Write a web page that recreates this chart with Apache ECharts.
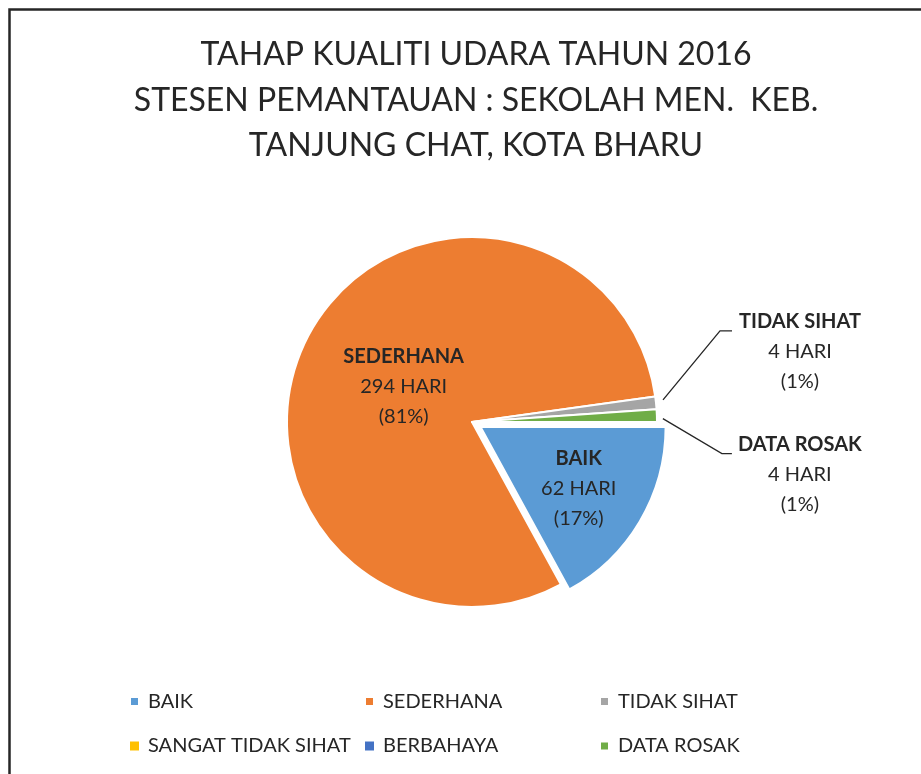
<!DOCTYPE html>
<html>
<head>
<meta charset="utf-8">
<script src="https://cdn.jsdelivr.net/npm/echarts@6/dist/echarts.min.js"></script>
<style>
  html, body { margin: 0; padding: 0; background: #fff; }
  #aqi-pie { width: 921px; height: 774px; }
</style>
</head>
<body>
<div id="aqi-pie"></div>
<script>
const titleLines = ['TAHAP KUALITI UDARA TAHUN 2016', 'STESEN PEMANTAUAN : SEKOLAH MEN.  KEB.', 'TANJUNG CHAT, KOTA BHARU']
const categories = ['BAIK', 'SEDERHANA', 'TIDAK SIHAT', 'SANGAT TIDAK SIHAT', 'BERBAHAYA', 'DATA ROSAK']
const days = [62, 294, 4, 0, 0, 4]
const colors = ['#5B9BD5', '#ED7D31', '#A5A5A5', '#FFC000', '#4472C4', '#70AD47']
// which slices carry an outside label with a leader line
const outsideLabels = ['TIDAK SIHAT', 'DATA ROSAK']
const legendColumns = [
  ['BAIK', 'SANGAT TIDAK SIHAT'],
  ['SEDERHANA', 'BERBAHAYA'],
  ['TIDAK SIHAT', 'DATA ROSAK'],
]

const FONT = 'Lato'
const TEXT = '#262626'

// nudges for the labels, relative to where echarts puts them
const innerShift = { BAIK: [16, 13], SEDERHANA: [17, 7] }
const leader = {
  'TIDAK SIHAT': { start: [7, -3], elbow: [64, -72], end: [76, -72] },
  'DATA ROSAK': { start: [6, 3], elbow: [65, 38], end: [75, 38] },
}

const chart = echarts.init(document.getElementById('aqi-pie'))

const pieData = categories.map((name, i) => {
  const item = { name: name, value: days[i], itemStyle: { color: colors[i] } }
  if (name === 'BAIK') item.selected = true
  if (days[i] === 0) {
    item.label = { show: false }
    item.labelLine = { show: false }
    item.itemStyle.borderWidth = 0
  } else if (outsideLabels.includes(name)) {
    item.label = { position: 'outside' }
    item.labelLine = { show: true }
  } else {
    item.label = { position: 'inner' }
    item.labelLine = { show: false }
  }
  return item
})

const legends = legendColumns.map((col, i) => ({
  data: col,
  orient: 'vertical',
  left: 124 + i * 235,
  top: 686.5,
  itemWidth: 9,
  itemHeight: 9,
  itemGap: 24.5,
  icon: 'rect',
  selectedMode: false,
  textStyle: { fontFamily: FONT, fontSize: 20, color: TEXT, lineHeight: 20, padding: [0, 0, 0, 4] },
}))

const add = (p, d) => [p[0] + d[0], p[1] + d[1]]

chart.setOption({
  backgroundColor: '#fff',
  title: {
    text: titleLines.join('\n'),
    left: 471,
    top: 27,
    textAlign: 'center',
    textStyle: { fontFamily: FONT, fontSize: 32, fontWeight: 'normal', color: TEXT, lineHeight: 45.5 },
  },
  legend: legends,
  graphic: [
    {
      type: 'rect',
      shape: { x: 9.5, y: 9.5, width: 1000, height: 1000 },
      style: { fill: null, stroke: '#262626', lineWidth: 2.5 },
      silent: true,
    },
  ],
  series: [
    {
      type: 'pie',
      center: [472, 422],
      radius: 185,
      startAngle: 0,
      clockwise: true,
      selectedMode: 'single',
      selectedOffset: 10,
      avoidLabelOverlap: false,
      percentPrecision: 0,
      emphasis: { disabled: true },
      itemStyle: { borderColor: '#fff', borderWidth: 2 },
      label: {
        formatter: '{b|{b}}\n{n|{c} HARI}\n{n|({d}%)}',
        color: TEXT,
        fontFamily: FONT,
        rich: {
          b: { fontFamily: FONT, fontSize: 20, fontWeight: 'bold', color: TEXT, lineHeight: 30, width: 130, align: 'center' },
          n: { fontFamily: FONT, fontSize: 20, color: TEXT, lineHeight: 30, width: 130, align: 'center' },
        },
      },
      labelLine: { lineStyle: { color: '#262626', width: 1.3 }, length: 40, length2: 0 },
      labelLayout: function (params) {
        const name = categories[params.dataIndex]
        if (innerShift[name]) return { dx: innerShift[name][0], dy: innerShift[name][1] }
        if (!leader[name] || !params.labelLinePoints) return {}
        const p0 = params.labelLinePoints[0]
        const l = leader[name]
        const end = add(p0, l.end)
        return {
          x: end[0] + 3,
          y: end[1] - 24.5,
          align: 'left',
          verticalAlign: 'top',
          labelLinePoints: [add(p0, l.start), add(p0, l.elbow), end],
        }
      },
      data: pieData,
    },
  ],
})
</script>
</body>
</html>
